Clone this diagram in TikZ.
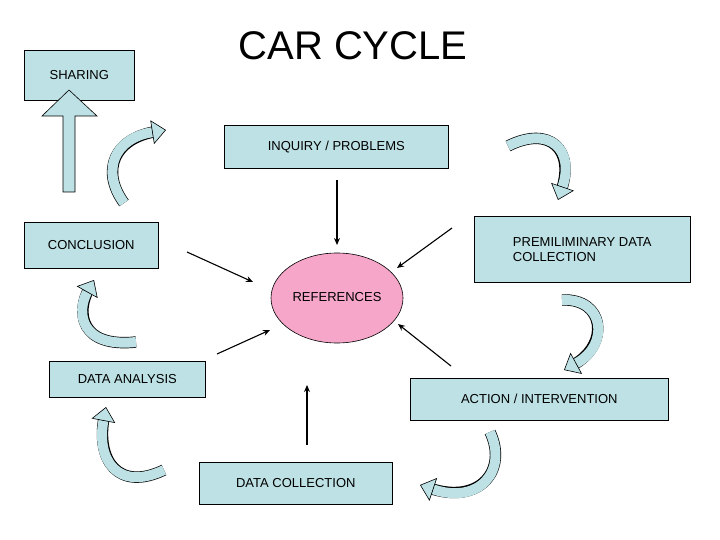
\documentclass[tikz,border=0pt]{standalone}
\usepackage{fontspec}
\setmainfont{Liberation Sans}
\usepackage{tikz}
\usetikzlibrary{positioning}
\usetikzlibrary{arrows.meta,shapes.geometric}

\definecolor{boxblue}{HTML}{BDE1E4}
\definecolor{refpink}{HTML}{F5A6C9}

\tikzset{
	stage/.style={draw=black, fill=boxblue, line width=0.6pt, inner sep=0pt, anchor=north west, font=\fontsize{13}{15}\selectfont},
	link/.style={-{Stealth[length=7pt,width=6pt]}, line width=1.1pt},
	swirl/.style={line width=10pt, draw=boxblue,
		-{Triangle[length=14pt,width=24pt,fill=boxblue,color=black,line width=0.6pt]},
		preaction={draw=black, line width=11.4pt, -, shorten >=10pt}},
}

\begin{document}
\begin{tikzpicture}[x=1pt,y=-1pt]
	
	\useasboundingbox (0,0) rectangle (720,540);
	
	% title
	\node (Title) at (353,46) {\fontsize{40}{44}\selectfont CAR CYCLE};
	
	% the boxes, placed by their top left corner
	\node[stage, minimum width=110pt, minimum height=50pt] (Sharing) at (24,50) {SHARING};
	\node[stage, minimum width=224pt, minimum height=43pt] (Inquiry) at (224,125) {INQUIRY / PROBLEMS};
	\node[stage, minimum width=216pt, minimum height=66pt, align=left] (Prelim) at (474,216) {PREMILIMINARY DATA\\COLLECTION};
	\node[stage, minimum width=134pt, minimum height=46pt] (Conclusion) at (24,222) {CONCLUSION};
	\node[stage, minimum width=156pt, minimum height=36pt] (Analysis) at (49,361) {DATA ANALYSIS};
	\node[stage, minimum width=258pt, minimum height=42pt] (Action) at (410,378) {ACTION / INTERVENTION};
	\node[stage, minimum width=193pt, minimum height=42pt] (Collection) at (199,462) {DATA COLLECTION};
	
	% centre
	\node[ellipse, draw=black, fill=refpink, line width=0.6pt, minimum width=132pt, minimum height=90pt, inner sep=0pt] (Ref) at (337,298) {};
	\node[font=\fontsize{13}{15}\selectfont] (RefText) at (337,297) {REFERENCES};
	
	% free ends of the straight arrows
	\coordinate (I0) at (337,180);
	\coordinate (P0) at (452,228);
	\coordinate (C0) at (187,252);
	\coordinate (A0) at (217,354);
	\coordinate (T0) at (451,366);
	\coordinate (D0) at (307,445);
	\coordinate (I1) at (337,245);
	\coordinate (P1) at (397,268);
	\coordinate (C1) at (253,282);
	\coordinate (A1) at (270,330);
	\coordinate (T1) at (398,324);
	\coordinate (D1) at (307,385);
	
	\draw[link] (I0) -- (I1);
	\draw[link] (P0) -- (P1);
	\draw[link] (C0) -- (C1);
	\draw[link] (A0) -- (A1);
	\draw[link] (T0) -- (T1);
	\draw[link] (D0) -- (D1);
	
	% block arrow up to sharing
	\draw[fill=boxblue, line width=0.6pt] (63,192) -- (63,116) -- (42,116) -- (69,90) -- (97,116) -- (75,116) -- (75,192) -- cycle;
	
	% curved arrows round the cycle
	\coordinate (S1) at (124,203);
	\coordinate (E1) at (166,130);
	\coordinate (S2) at (508,146);
	\coordinate (E2) at (558,200);
	\coordinate (S3) at (562,300);
	\coordinate (E3) at (564,370);
	\coordinate (S4) at (490,432);
	\coordinate (E4) at (420,485);
	\coordinate (S5) at (164,470);
	\coordinate (E5) at (106,407);
	\coordinate (S6) at (136,342);
	\coordinate (E6) at (94,280);
	
	\draw[swirl] (S1) .. controls (100,170) and (115,138) .. (E1);
	\draw[swirl] (S2) .. controls (550,125) and (575,150) .. (E2);
	\draw[swirl] (S3) .. controls (605,298) and (610,345) .. (E3);
	\draw[swirl] (S4) .. controls (508,470) and (480,505) .. (E4);
	\draw[swirl] (S5) .. controls (118,492) and (96,460) .. (E5);
	\draw[swirl] (S6) .. controls (80,348) and (76,312) .. (E6);
	
\end{tikzpicture}
\end{document}
